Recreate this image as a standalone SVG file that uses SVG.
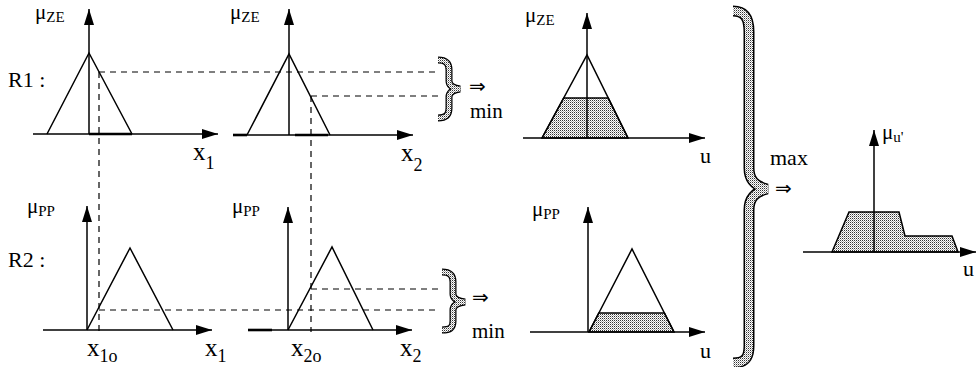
<svg xmlns="http://www.w3.org/2000/svg" width="976" height="367" viewBox="0 0 976 367">
<defs>
<marker id="arr" markerWidth="16" markerHeight="10" refX="16" refY="5" orient="auto" markerUnits="userSpaceOnUse"><path d="M0,0 L16,5 L0,10 z" fill="#000"/></marker>
<pattern id="dots" width="2" height="2" patternUnits="userSpaceOnUse"><rect width="2" height="2" fill="#fff"/><rect width="1" height="1" fill="#333"/><rect x="1" y="1" width="1" height="1" fill="#aaa"/></pattern>
<style>
.ax{stroke:#000;stroke-width:1.5;fill:none}
.axa{stroke:#000;stroke-width:1.5;fill:none;marker-end:url(#arr)}
.thick{stroke:#000;stroke-width:2.6}
.mf{stroke:#000;stroke-width:1.5;fill:none;stroke-linejoin:miter}
.sh{fill:url(#dots);stroke:#000;stroke-width:1.5}
.dash{stroke:#000;stroke-width:1.2;stroke-dasharray:6,5;fill:none}
text{font-family:"Liberation Serif","Times New Roman",serif;fill:#000}
.mu{font-size:21px}
.sub{font-size:15px}
.big{font-size:22px}
.mn{font-size:21px}
.xl{font-size:25px}
.xs{font-size:18px}
.ar{font-family:"DejaVu Sans",sans-serif;font-size:20px}
.bo{fill:none;stroke:#000;stroke-linejoin:miter}
.bi{fill:none;stroke:url(#dots);stroke-linejoin:miter}
</style>
</defs>
<rect width="976" height="367" fill="#fff"/>

<g id="connectors">
<line class="dash" x1="99" y1="72" x2="440" y2="72"/>
<line class="dash" x1="311" y1="96" x2="440" y2="96"/>
<line class="dash" x1="99" y1="72" x2="99" y2="332"/>
<line class="dash" x1="311" y1="96" x2="311" y2="332"/>
<line class="dash" x1="99" y1="310" x2="440" y2="310"/>
<line class="dash" x1="311" y1="289" x2="440" y2="289"/>
</g>

<g id="r1-x1">
<text class="big" x="8" y="87">R1 :</text>
<line class="axa" x1="33" y1="134" x2="218" y2="134"/>
<line class="thick" x1="89" y1="134" x2="132" y2="134"/>
<line class="axa" x1="89" y1="134" x2="89" y2="9"/>
<polyline class="mf" points="47,134 89,53 132,134"/>
<text x="35" y="19"><tspan class="mu">μ</tspan><tspan class="sub" dy="3">ZE</tspan></text>
<text x="193" y="160"><tspan class="xl">x</tspan><tspan class="xs" dy="9">1</tspan></text>
</g>

<g id="r1-x2">
<line class="axa" x1="233" y1="135" x2="413" y2="135"/>
<line class="thick" x1="233" y1="135" x2="247" y2="135"/>
<line class="thick" x1="295" y1="135" x2="328" y2="135"/>
<line class="axa" x1="289" y1="135" x2="289" y2="9"/>
<polyline class="mf" points="247,135 289,54 330,135"/>
<text x="230" y="19"><tspan class="mu">μ</tspan><tspan class="sub" dy="3">ZE</tspan></text>
<text x="401" y="161"><tspan class="xl">x</tspan><tspan class="xs" dy="10">2</tspan></text>
</g>

<g id="min1">
<path class="bo" stroke-width="7" d="M438,60 C446,60 449,63 449,70 L449,81 C449,86 453,88 460,89 C453,90 449,92 449,97 L449,108 C449,115 446,118 438,118"/>
<path class="bi" stroke-width="4.5" d="M438,60 C446,60 449,63 449,70 L449,81 C449,86 453,88 460,89 C453,90 449,92 449,97 L449,108 C449,115 446,118 438,118"/>
<text class="ar" x="469" y="93">⇒</text>
<text class="mn" x="470" y="118">min</text>
</g>

<g id="r1-u">
<polygon class="sh" points="542,138 563.7,98 608.2,98 628,138"/>
<polyline class="mf" points="542,138 587,55 628,138"/>
<line class="axa" x1="587" y1="138" x2="587" y2="13"/>
<line class="axa" x1="523" y1="138" x2="705" y2="138"/>
<text x="525" y="22"><tspan class="mu">μ</tspan><tspan class="sub" dy="3">ZE</tspan></text>
<text class="big" x="700" y="163">u</text>
</g>

<g id="r2-x1">
<text class="big" x="8" y="267">R2 :</text>
<line class="axa" x1="43" y1="330" x2="212" y2="330"/>
<line class="axa" x1="87" y1="330" x2="87" y2="206"/>
<polyline class="mf" points="87,330 130,248 173,330"/>
<text x="27" y="213"><tspan class="mu">μ</tspan><tspan class="sub" dy="3">PP</tspan></text>
<text x="87" y="356"><tspan class="xl">x</tspan><tspan class="xs" dy="6">1o</tspan></text>
<text x="205" y="356"><tspan class="xl">x</tspan><tspan class="xs" dy="6">1</tspan></text>
</g>

<g id="r2-x2">
<line class="axa" x1="248" y1="330" x2="412" y2="330"/>
<line class="thick" x1="248" y1="330" x2="272" y2="330"/>
<line class="axa" x1="288" y1="330" x2="288" y2="207"/>
<polyline class="mf" points="288,330 332,247 373,330"/>
<text x="232" y="213"><tspan class="mu">μ</tspan><tspan class="sub" dy="3">PP</tspan></text>
<text x="291" y="356"><tspan class="xl">x</tspan><tspan class="xs" dy="6">2o</tspan></text>
<text x="400" y="356"><tspan class="xl">x</tspan><tspan class="xs" dy="6">2</tspan></text>
</g>

<g id="min2">
<path class="bo" stroke-width="7" d="M442,272 C450,272 453,275 453,282 L453,294 C453,299 457,301 465,302 C457,303 453,305 453,310 L453,321 C453,328 450,330 442,330"/>
<path class="bi" stroke-width="4.5" d="M442,272 C450,272 453,275 453,282 L453,294 C453,299 457,301 465,302 C457,303 453,305 453,310 L453,321 C453,328 450,330 442,330"/>
<text class="ar" x="472" y="304">⇒</text>
<text class="mn" x="472" y="338">min</text>
</g>

<g id="r2-u">
<polygon class="sh" points="589,332 598.8,313 664.4,313 674,332"/>
<polyline class="mf" points="589,332 632,249 674,332"/>
<line class="axa" x1="588" y1="332" x2="588" y2="207"/>
<line class="axa" x1="530" y1="332" x2="705" y2="332"/>
<text x="532" y="216"><tspan class="mu">μ</tspan><tspan class="sub" dy="3">PP</tspan></text>
<text class="big" x="700" y="358">u</text>
</g>

<g id="max">
<path class="bo" stroke-width="11" d="M733,11 C745,11 749,18 749,32 L749,168 C749,180 755,186 767,189 C755,192 749,198 749,210 L749,346 C749,358 745,363 733,363"/>
<path class="bi" stroke-width="8" d="M733,11 C745,11 749,18 749,32 L749,168 C749,180 755,186 767,189 C755,192 749,198 749,210 L749,346 C749,358 745,363 733,363"/>
<text class="big" x="770" y="165">max</text>
<text class="ar" x="775" y="195">⇒</text>
</g>

<g id="out">
<polygon class="sh" points="832,252 849,212 899,212 905,236 952,236 958,252"/>
<line class="axa" x1="874" y1="252" x2="874" y2="130"/>
<line class="axa" x1="803" y1="252" x2="976" y2="252"/>
<text x="882" y="139"><tspan class="mu">μ</tspan><tspan class="sub" dy="3">u'</tspan></text>
<text class="big" x="963" y="276">u</text>
</g>
</svg>
